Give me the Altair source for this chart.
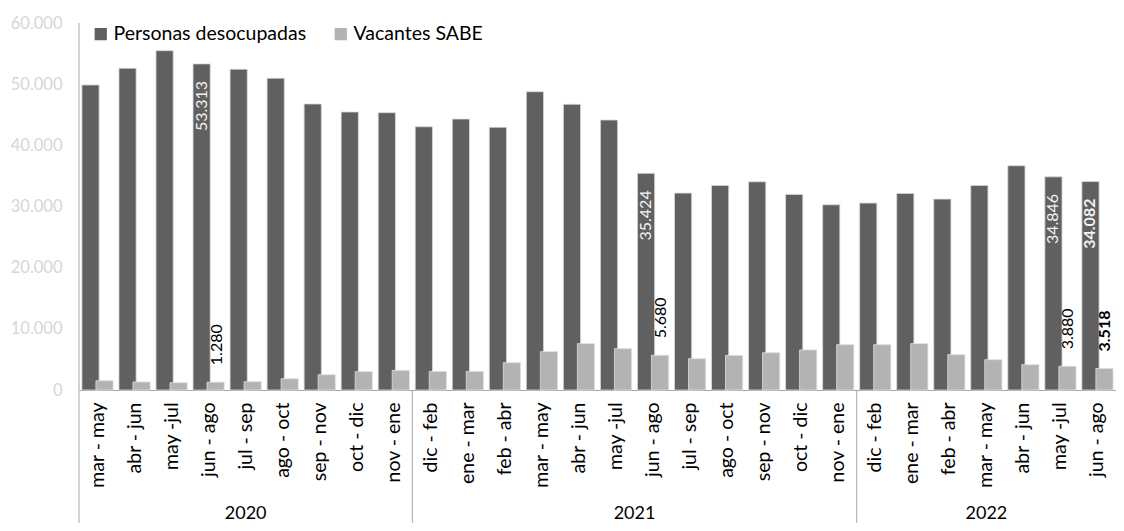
import json
import altair as alt
import pandas as pd

years = ["2020", "2021", "2022"]
periods_2020 = ["mar - may", "abr - jun", "may -jul", "jun - ago", "jul - sep",
                "ago - oct", "sep - nov", "oct - dic", "nov - ene"]
periods_2021 = ["dic - feb", "ene - mar", "feb - abr", "mar - may", "abr - jun",
                "may -jul", "jun - ago", "jul - sep", "ago - oct", "sep - nov",
                "oct - dic", "nov - ene"]
periods_2022 = ["dic - feb", "ene - mar", "feb - abr", "mar - may", "abr - jun",
                "may -jul", "jun - ago"]

desocupadas = [49870, 52600, 55480, 53313, 52440, 50970, 46760, 45450, 45340,
               43040, 44300, 42950, 48770, 46710, 44140, 35424, 32190, 33450,
               34040, 31980, 30280,
               30560, 32140, 31210, 33450, 36660, 34846, 34082]
vacantes = [1520, 1310, 1190, 1280, 1360, 1850, 2500, 3000, 3210,
            3040, 3040, 4470, 6270, 7580, 6760, 5680, 5120, 5660,
            6100, 6550, 7410,
            7410, 7580, 5780, 4960, 4140, 3880, 3518]

series_names = ["Personas desocupadas", "Vacantes SABE"]
labeled_idx = [3, 15, 26, 27]

DARK = "#606060"
LIGHT = "#b3b3b3"
FONT = "Lato"
VIEW_W = 1037            # plot width (svg is 1108 px wide)
STEP = VIEW_W / 28
HALF = STEP / 2

periods_by_year = [periods_2020, periods_2021, periods_2022]
keys, yrs = [], []
for y, ps in zip(years, periods_by_year):
    for p in ps:
        keys.append(f"{y}|{p}")
        yrs.append(y)

df = pd.DataFrame({"key": keys, "year": yrs,
                   series_names[0]: desocupadas, series_names[1]: vacantes})
long = df.melt(id_vars=["key", "year"], value_vars=series_names,
               var_name="series", value_name="value")
lab_keys = [keys[i] for i in labeled_idx]
last_key = keys[-1]
normal_keys = [k for k in lab_keys if k != last_key]

# year label anchors
mid_center, mid_start, group_starts = [], [], []
start = 0
for y, ps in zip(years, periods_by_year):
    n = len(ps)
    if n % 2 == 1:
        mid_center.append({"key": keys[start + n // 2], "year": y})
    else:
        mid_start.append({"key": keys[start + n // 2], "year": y})
    if start > 0:
        group_starts.append({"key": keys[start]})
    start += n

xscale = alt.Scale(domain=keys, paddingInner=0, paddingOuter=0)

x_axis = alt.X("key:N", scale=xscale, title=None, sort=None,
               axis=alt.Axis(orient="bottom", labelAngle=270,
                             labelExpr="split(datum.label, '|')[1]",
                             labelFontSize=19.5, labelColor="black", labelPadding=12,
                             ticks=False, domainColor="#a6a6a6", domainWidth=1,
                             labelFont=FONT, grid=False, labelLimit=300))
x_plain = alt.X("key:N", scale=xscale, title=None, sort=None)

yscale = alt.Scale(domain=[0, 60000], nice=False, zero=True)
y_axis = alt.Y("value:Q", scale=yscale, title=None,
               axis=alt.Axis(orient="left",
                             values=[0, 10000, 20000, 30000, 40000, 50000, 60000],
                             labelExpr="replace(format(datum.value, ',d'), ',', '.')",
                             ticks=False, domain=False, grid=False,
                             labelColor="#d6d6d6", labelFontSize=16.5,
                             labelPadding=17, labelFont=FONT))
y_plain = alt.Y("value:Q", scale=yscale, title=None)

color = alt.Color("series:N", scale=alt.Scale(domain=series_names, range=[DARK, LIGHT]),
                  legend=alt.Legend(orient="none", legendX=12, legendY=1,
                                    direction="horizontal", title=None,
                                    symbolType="square", symbolSize=150,
                                    symbolStrokeWidth=0, labelFontSize=19.5,
                                    labelOffset=3, columnPadding=24, labelLimit=500,
                                    labelColor="black", padding=0, labelFont=FONT))

base = alt.Chart(long)

dark_bars = base.transform_filter(alt.datum.series == series_names[0]).mark_bar(
    width=17.2, stroke="#d9d9d9", strokeWidth=0.8
).encode(x=x_axis, xOffset=alt.value(HALF - 7), y=y_axis, color=color)

light_bars = base.transform_filter(alt.datum.series == series_names[1]).mark_bar(
    width=17.2, stroke="#e0e0e0", strokeWidth=0.8
).encode(x=x_plain, xOffset=alt.value(HALF + 7), y=y_plain, color=color)

label_calc = "replace(format(datum.value, ',d'), ',', '.')"


def value_labels(series, key_list, weight, dark):
    expr = f"datum.series == {json.dumps(series)} && indexof({json.dumps(key_list)}, datum.key) >= 0"
    return base.transform_filter(expr).transform_calculate(label=label_calc).mark_text(
        angle=270, align="right" if dark else "left", baseline="middle",
        color="#f2f2f2" if dark else "black", fontSize=16, font=FONT, fontWeight=weight
    ).encode(x=x_plain, xOffset=alt.value(HALF - 7 if dark else HALF + 8), y=y_plain,
             yOffset=alt.value(17 if dark else -17), text="label:N")


dark_labels = value_labels(series_names[0], normal_keys, "normal", True)
dark_labels_b = value_labels(series_names[0], [last_key], "bold", True)
light_labels = value_labels(series_names[1], normal_keys, "normal", False)
light_labels_b = value_labels(series_names[1], [last_key], "bold", False)

left_line = alt.Chart(pd.DataFrame({"a": [0]})).mark_rule(color="#a6a6a6", strokeWidth=1).encode(
    x=alt.value(0), y=alt.value(0), y2=alt.value(510))

sep_lines = alt.Chart(pd.DataFrame(group_starts)).mark_rule(color="#a6a6a6", strokeWidth=1).encode(
    x=alt.X("key:N", scale=xscale, title=None, bandPosition=0),
    y=alt.value(367), y2=alt.value(510))

year_c = alt.Chart(pd.DataFrame(mid_center)).mark_text(
    fontSize=18, color="black", baseline="middle", font=FONT
).encode(x=alt.X("key:N", scale=xscale, title=None, bandPosition=0.5),
         y=alt.value(491), text="year:N")
year_s = alt.Chart(pd.DataFrame(mid_start)).mark_text(
    fontSize=18, color="black", baseline="middle", font=FONT
).encode(x=alt.X("key:N", scale=xscale, title=None, bandPosition=0),
         y=alt.value(491), text="year:N")

chart = alt.layer(
    dark_bars, light_bars, dark_labels, dark_labels_b, light_labels, light_labels_b,
    left_line, sep_lines, year_c, year_s
).properties(
    width=VIEW_W, height=367,
    autosize=alt.AutoSizeParams(type="none"),
    padding={"left": 71, "top": 15, "right": 0, "bottom": 133},
).configure(font=FONT).configure_view(stroke=None)

chart.save("out.html", embed_options={"renderer": "svg", "actions": False})
